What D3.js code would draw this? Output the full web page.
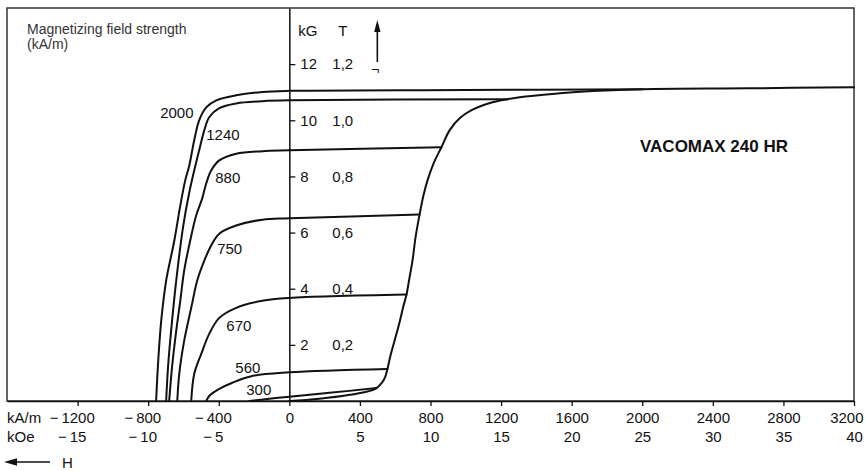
<!DOCTYPE html>
<html>
<head>
<meta charset="utf-8">
<script src="https://cdn.jsdelivr.net/npm/d3@7"></script>
<style>
  body { margin: 0; background: #fff; }
  svg { display: block; font-family: "Liberation Sans", Arial, Helvetica, sans-serif; }
</style>
</head>
<body>
<svg id="chart" width="865" height="471"></svg>
<script>
// ---- Axis ticks and labels ----
const hTicks = [-1200, -800, -400, 0, 400, 800, 1200, 1600, 2000, 2400, 2800, 3200]; // kA/m
const kOeLabels = [-15, -10, -5, null, 5, 10, 15, 20, 25, 30, 35, 40];              // kOe
const bTicks = [2, 4, 6, 8, 10, 12];                                                // kG
const teslaLabels = ["0,2", "0,4", "0,6", "0,8", "1,0", "1,2"];                     // T

// ---- Initial magnetization curve: [H (kA/m), B (kG)] ----
const virginCurve = [
  [0, 0], [170, 0.08], [437, 0.33], [494, 0.46], [528, 0.68], [545, 0.89], [556, 1.14],
  [573, 1.61], [596, 2.14], [624, 2.79], [647, 3.39], [664, 3.79], [681, 4.39], [698, 5.0],
  [715, 5.82], [738, 6.64], [760, 7.32], [783, 7.86], [817, 8.46], [862, 9.04], [908, 9.64],
  [965, 10.07], [1033, 10.36], [1152, 10.64], [1305, 10.82], [1532, 10.96], [1719, 11.04],
  [2003, 11.11], [2610, 11.14], [3200, 11.18]
];

// ---- Recoil + demagnetization curves after magnetizing at the given field strength ----
const loop2000 = [
  [2003, 11.11], [1000, 11.08], [0, 11.05], [-153, 11.01], [-301, 10.89], [-414, 10.71],
  [-471, 10.46], [-511, 10.0], [-539, 9.29], [-567, 8.39], [-590, 7.86], [-618, 6.96],
  [-652, 5.71], [-698, 4.29], [-726, 2.86], [-743, 1.43], [-755, 0]
];
const loop1240 = [
  [1240, 10.75], [0, 10.71], [-153, 10.68], [-301, 10.6], [-397, 10.43], [-454, 10.11],
  [-482, 9.64], [-511, 8.93], [-539, 8.21], [-567, 7.43], [-601, 6.25], [-641, 4.29],
  [-670, 2.5], [-687, 1.25], [-698, 0]
];
const loop880 = [
  [862, 9.04], [0, 8.93], [-153, 8.9], [-301, 8.81], [-397, 8.57], [-443, 8.21],
  [-471, 7.75], [-494, 7.21], [-528, 6.61], [-562, 5.71], [-596, 4.64], [-618, 3.57],
  [-641, 2.5], [-664, 1.25], [-681, 0]
];
const loop750 = [
  [738, 6.64], [0, 6.51], [-153, 6.46], [-301, 6.25], [-397, 5.96], [-443, 5.54],
  [-482, 5.0], [-522, 4.29], [-556, 3.32], [-596, 2.14], [-624, 0.96], [-635, 0]
];
const loop670 = [
  [664, 3.79], [0, 3.67], [-153, 3.57], [-301, 3.32], [-397, 2.96], [-454, 2.39],
  [-499, 1.68], [-539, 0.96], [-556, 0]
];
const loop560 = [
  [556, 1.14], [0, 1.02], [-210, 0.89], [-323, 0.65], [-397, 0.43], [-454, 0.18], [-471, 0]
];
const loop300 = [
  [494, 0.46], [227, 0.29], [0, 0.15], [-113, 0.08], [-227, 0]
];

// Curve names (magnetizing field strength, kA/m) and where each name sits [H, B]
const loopNames = ["2000", "1240", "880", "750", "670", "560", "300"];
const loopNameAnchors = [
  [-732, 10.07], [-471, 9.29], [-420, 7.75], [-409, 5.25], [-357, 2.5], [-306, 1.0], [-244, 0.21]
];

// ---- Layout ----
const svg = d3.select("#chart");
const width = 865;
const frame = { left: 7, right: 854, top: 8, bottom: 401 };
const ink = "#111";
const fontSize = 15;

const x = d3.scaleLinear().domain([-1600, 3200]).range([frame.left, frame.right]);
const y = d3.scaleLinear().domain([0, 14]).range([frame.bottom, frame.top]);

// Outer frame
svg.append("rect")
  .attr("x", frame.left).attr("y", frame.top)
  .attr("width", frame.right - frame.left).attr("height", frame.bottom - frame.top)
  .attr("fill", "none").attr("stroke", "#333").attr("stroke-width", 1.5);

// ---- H axis (kA/m with kOe underneath) ----
const gx = svg.append("g")
  .attr("transform", `translate(0,${frame.bottom})`)
  .call(d3.axisBottom(x).tickValues(hTicks).tickSize(5).tickSizeOuter(0)
    .tickFormat(d => Math.abs(d)))
  .attr("font-size", null).attr("font-family", null);

gx.select(".domain").attr("stroke", ink).attr("stroke-width", 1.5);
gx.selectAll(".tick line").attr("stroke", ink).attr("stroke-width", 1.3);
gx.selectAll(".tick text")
  .attr("y", 22).attr("dy", null)
  .attr("font-size", fontSize).attr("fill", ink);

// Minus signs hang in front of centred digits
function addMinus(textSel, value) {
  if (value >= 0) return;
  const node = textSel.node();
  const w = node.getComputedTextLength();
  d3.select(node.parentNode).append("text")
    .attr("x", -(w / 2 + 3)).attr("y", textSel.attr("y"))
    .attr("text-anchor", "end").attr("font-size", fontSize).attr("fill", ink)
    .text("\u2212");
}

gx.selectAll(".tick").each(function (d, i) {
  const g = d3.select(this);
  addMinus(g.select("text"), d);
  const k = kOeLabels[i];
  if (k !== null) {
    const t = g.append("text")
      .attr("x", 0).attr("y", 41)
      .attr("text-anchor", "middle").attr("font-size", fontSize).attr("fill", ink)
      .text(Math.abs(k));
    addMinus(t, k);
  }
});

// Labels at the right end are pulled in so they stay inside the page
gx.selectAll(".tick").each(function (d) {
  d3.select(this).selectAll("text").each(function () {
    const w = this.getComputedTextLength();
    const overflow = x(d) + w / 2 - (width - 2);
    if (overflow > 0) d3.select(this).attr("x", -overflow);
  });
});

svg.append("text").attr("x", frame.left).attr("y", frame.bottom + 22)
  .attr("font-size", fontSize).attr("fill", ink).text("kA/m");
svg.append("text").attr("x", frame.left).attr("y", frame.bottom + 41)
  .attr("font-size", fontSize).attr("fill", ink).text("kOe");

// Direction of H
const hy = 462;
svg.append("line").attr("x1", 15).attr("x2", 50).attr("y1", hy).attr("y2", hy)
  .attr("stroke", ink).attr("stroke-width", 1.6);
svg.append("path").attr("d", `M4,${hy} L17,${hy - 3.8} L17,${hy + 3.8} Z`).attr("fill", ink);
svg.append("text").attr("x", 62).attr("y", hy + 5.5)
  .attr("font-size", fontSize).attr("fill", ink).text("H");

// ---- B / J axis through H = 0 ----
const x0 = x(0);
const gy = svg.append("g")
  .attr("transform", `translate(${x0},0)`)
  .call(d3.axisRight(y).tickValues(bTicks).tickSize(6).tickPadding(5).tickSizeOuter(0))
  .attr("font-size", null).attr("font-family", null);
gy.select(".domain").attr("stroke", ink).attr("stroke-width", 1.5);
gy.selectAll(".tick line").attr("stroke", ink).attr("stroke-width", 1.3);
gy.selectAll(".tick text").attr("font-size", fontSize).attr("fill", ink);

const gt = svg.append("g")
  .attr("transform", `translate(${x0},0)`)
  .call(d3.axisRight(y).tickValues(bTicks).tickSize(0).tickPadding(43)
    .tickFormat((d, i) => teslaLabels[i]))
  .attr("font-size", null).attr("font-family", null);
gt.select(".domain").remove();
gt.selectAll(".tick text").attr("font-size", fontSize).attr("fill", ink);

svg.append("text").attr("x", x0 + 9).attr("y", 36)
  .attr("font-size", fontSize).attr("fill", ink).text("kG");
svg.append("text").attr("x", x0 + 49).attr("y", 36)
  .attr("font-size", fontSize).attr("fill", ink).text("T");

// Upward arrow with its symbol
const ax = x0 + 88;
svg.append("line").attr("x1", ax).attr("x2", ax).attr("y1", 62).attr("y2", 30)
  .attr("stroke", ink).attr("stroke-width", 1.6);
svg.append("path").attr("d", `M${ax},20 L${ax - 3.2},32 L${ax + 3.2},32 Z`).attr("fill", ink);
svg.append("text").attr("x", ax - 6).attr("y", 75)
  .attr("font-size", 14).attr("fill", ink).text("\u00AC");

// ---- Curves ----
const line = d3.line()
  .x(d => x(d[0])).y(d => y(d[1]))
  .curve(d3.curveCatmullRom.alpha(0.5));

const loops = [loop2000, loop1240, loop880, loop750, loop670, loop560, loop300];

svg.append("g").selectAll("path")
  .data([virginCurve, ...loops])
  .join("path")
  .attr("d", line)
  .attr("fill", "none").attr("stroke", ink).attr("stroke-width", 2)
  .attr("stroke-linejoin", "round").attr("stroke-linecap", "round");

svg.append("g").selectAll("text")
  .data(loopNames)
  .join("text")
  .attr("x", (d, i) => x(loopNameAnchors[i][0]))
  .attr("y", (d, i) => y(loopNameAnchors[i][1]))
  .attr("font-size", fontSize).attr("fill", ink)
  .text(d => d);

// ---- Captions ----
svg.append("text").attr("x", 27).attr("y", 33.5)
  .attr("font-size", 14).attr("fill", "#333").text("Magnetizing field strength");
svg.append("text").attr("x", 27).attr("y", 49)
  .attr("font-size", 14).attr("fill", "#333").text("(kA/m)");

svg.append("text").attr("x", 640).attr("y", 152)
  .attr("font-size", 17).attr("font-weight", "bold").attr("fill", ink)
  .text("VACOMAX 240 HR");
</script>
</body>
</html>
